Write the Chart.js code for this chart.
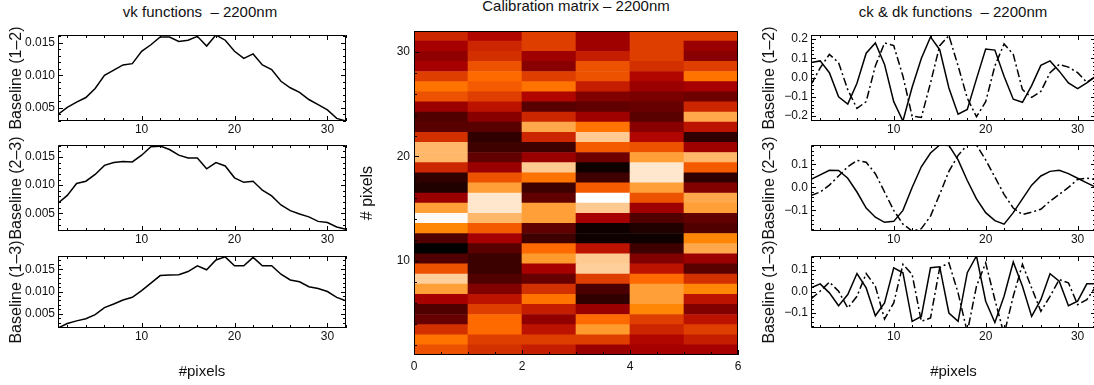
<!DOCTYPE html>
<html>
<head>
<meta charset="utf-8">
<title>vk functions, calibration matrix, ck &amp; dk functions – 2200nm</title>
<script src="https://cdn.jsdelivr.net/npm/chart.js@4.4.1/dist/chart.umd.min.js"></script>
<style>
    html, body { margin: 0; padding: 0; background: #fff; overflow: hidden; }
    body { position: relative; width: 1094px; height: 385px; font-family: 'Liberation Sans', Arial, Helvetica, sans-serif; color: #111; }
    canvas { position: absolute; }
    .title { position: absolute; font-size: 15px; line-height: 18px; white-space: pre; transform: translateX(-50%); }
</style>
</head>
<body>
<div class="title" style="left:200px; top:3px;">vk functions  – 2200nm</div>
<div class="title" style="left:576px; top:-3px;">Calibration matrix – 2200nm</div>
<div class="title" style="left:953px; top:3px;">ck &amp; dk functions  – 2200nm</div>
<script>
// Detector pixels along the x axes
const pixels = [1, 2, 3, 4, 5, 6, 7, 8, 9, 10, 11, 12, 13, 14, 15, 16,
                17, 18, 19, 20, 21, 22, 23, 24, 25, 26, 27, 28, 29, 30, 31, 32];

// vk functions, one per baseline
const vk12 = [0.0040, 0.0051, 0.0059, 0.0066, 0.0080, 0.0100, 0.0108, 0.0116, 0.0118, 0.0137, 0.0147, 0.0159,
              0.0159, 0.0152, 0.0154, 0.0160, 0.0145, 0.0162, 0.0154, 0.0137, 0.0126, 0.0133, 0.0116, 0.0109,
              0.0091, 0.0081, 0.0074, 0.0063, 0.0055, 0.0047, 0.0034, 0.0030];
const vk23 = [0.0068, 0.0082, 0.0103, 0.0107, 0.0119, 0.0135, 0.0140, 0.0142, 0.0141, 0.0153, 0.0168, 0.0169,
              0.0163, 0.0153, 0.0148, 0.0148, 0.0129, 0.0140, 0.0134, 0.0113, 0.0105, 0.0107, 0.0091, 0.0081,
              0.0065, 0.0055, 0.0049, 0.0044, 0.0036, 0.0034, 0.0026, 0.0022];
const vk13 = [0.0018, 0.0028, 0.0034, 0.0039, 0.0048, 0.0064, 0.0072, 0.0081, 0.0087, 0.0102, 0.0119, 0.0136,
              0.0137, 0.0138, 0.0145, 0.0158, 0.0149, 0.0171, 0.0178, 0.0158, 0.0158, 0.0177, 0.0158, 0.0158,
              0.0139, 0.0126, 0.0122, 0.0111, 0.0107, 0.0100, 0.0087, 0.0079];

// ck (solid) and dk (dash-dot) functions
const ck12 = [0.077, 0.086, 0.025, -0.100, -0.137, -0.030, 0.126, 0.179, 0.068, -0.125, -0.225, -0.050,
              0.098, 0.210, 0.144, -0.054, -0.190, -0.165, -0.007, 0.147, 0.142, 0.007, -0.112, -0.128,
              -0.042, 0.063, 0.086, 0.033, -0.028, -0.058, -0.028, 0.007];
const dk12 = [-0.037, 0.050, 0.120, 0.077, -0.063, -0.160, -0.125, 0.060, 0.179, 0.165, 0.007, -0.200,
              -0.207, -0.028, 0.165, 0.217, 0.060, -0.107, -0.203, -0.125, 0.060, 0.174, 0.120, -0.063,
              -0.103, -0.072, 0.025, 0.068, 0.054, 0.025, -0.025, 0.007];
const ck23 = [0.035, 0.055, 0.075, 0.074, 0.040, -0.020, -0.090, -0.130, -0.152, -0.148, -0.100, 0.000,
              0.090, 0.150, 0.185, 0.183, 0.120, 0.030, -0.050, -0.110, -0.145, -0.160, -0.110, -0.050,
              0.010, 0.050, 0.070, 0.075, 0.060, 0.040, 0.020, 0.000];
const dk23 = [-0.035, -0.020, 0.010, 0.050, 0.090, 0.118, 0.110, 0.060, -0.020, -0.100, -0.160, -0.190,
              -0.180, -0.125, -0.030, 0.070, 0.140, 0.185, 0.185, 0.120, 0.045, -0.030, -0.090, -0.118,
              -0.108, -0.095, -0.060, -0.030, 0.000, 0.035, 0.040, 0.035];
const ck13 = [0.017, 0.036, -0.006, -0.066, -0.014, 0.084, 0.017, -0.113, -0.053, 0.111, 0.088, -0.139,
              -0.116, 0.111, 0.116, -0.100, -0.139, 0.088, 0.166, -0.045, -0.144, -0.022, 0.138, 0.025,
              -0.116, -0.038, 0.083, 0.048, -0.066, -0.045, 0.036, 0.036];
const dk13 = [-0.034, 0.002, 0.044, 0.002, -0.077, -0.022, 0.084, 0.025, -0.128, -0.053, 0.127, 0.080,
              -0.139, -0.123, 0.111, 0.134, -0.006, -0.190, 0.025, 0.134, -0.038, -0.200, -0.022, 0.127,
              0.017, -0.092, -0.022, 0.056, 0.041, -0.061, -0.038, 0.025];

// Calibration matrix (0..1 on the colour table), rows from pixel 32 (top) down to pixel 1
const calibRows = [
    [0.55, 0.48, 0.60, 0.43, 0.60, 0.60],
    [0.45, 0.55, 0.60, 0.43, 0.60, 0.42],
    [0.39, 0.57, 0.43, 0.53, 0.60, 0.37],
    [0.45, 0.64, 0.37, 0.64, 0.57, 0.60],
    [0.60, 0.69, 0.60, 0.64, 0.48, 0.71],
    [0.71, 0.66, 0.71, 0.53, 0.42, 0.45],
    [0.64, 0.60, 0.48, 0.35, 0.33, 0.30],
    [0.42, 0.51, 0.24, 0.26, 0.28, 0.55],
    [0.22, 0.37, 0.55, 0.43, 0.24, 0.82],
    [0.24, 0.24, 0.82, 0.71, 0.37, 0.51],
    [0.57, 0.13, 0.55, 0.89, 0.48, 0.13],
    [0.85, 0.17, 0.17, 0.66, 0.64, 0.43],
    [0.85, 0.26, 0.42, 0.30, 0.80, 0.85],
    [0.55, 0.42, 0.89, 0.04, 0.95, 0.66],
    [0.13, 0.64, 0.71, 0.17, 0.95, 0.13],
    [0.09, 0.80, 0.17, 0.66, 0.80, 0.35],
    [0.42, 0.95, 0.26, 1.00, 0.64, 0.82],
    [0.80, 0.95, 0.80, 0.89, 0.43, 0.80],
    [0.99, 0.85, 0.80, 0.45, 0.22, 0.26],
    [0.75, 0.66, 0.26, 0.04, 0.09, 0.22],
    [0.22, 0.45, 0.17, 0.04, 0.04, 0.75],
    [0.00, 0.24, 0.69, 0.51, 0.17, 0.82],
    [0.22, 0.16, 0.79, 0.89, 0.35, 0.42],
    [0.64, 0.16, 0.45, 0.90, 0.51, 0.24],
    [0.90, 0.22, 0.28, 0.60, 0.69, 0.57],
    [0.80, 0.35, 0.57, 0.20, 0.80, 0.75],
    [0.45, 0.51, 0.71, 0.13, 0.80, 0.51],
    [0.22, 0.60, 0.53, 0.42, 0.75, 0.35],
    [0.28, 0.69, 0.39, 0.69, 0.60, 0.51],
    [0.57, 0.69, 0.51, 0.79, 0.55, 0.60],
    [0.71, 0.60, 0.60, 0.60, 0.48, 0.53],
    [0.64, 0.57, 0.53, 0.42, 0.45, 0.45]
];

// Tick values
const pixelTicks = [10, 20, 30];
const vkTicks = [0.005, 0.010, 0.015];
const ckTicks = [-0.2, -0.1, 0.0, 0.1, 0.2];
const ckTicksMid = [-0.1, 0.0, 0.1];
const matrixXTicks = [0, 2, 4, 6];
const matrixYTicks = [10, 20, 30];

Chart.defaults.font.family = "'Liberation Sans', Arial, Helvetica, sans-serif";
Chart.defaults.color = '#111';

// Box round the plot area with inward major/minor ticks
const boxTicks = {
    id: 'boxTicks',
    afterDatasetsDraw(chart, args, opts) {
        const { ctx, chartArea: a } = chart;
        const sides = opts.sides || ['left', 'right', 'top', 'bottom'];
        const marks = (scale, step) => {
            const majors = scale.ticks.map(t => t.value);
            const out = [];
            const n0 = Math.ceil(scale.min / step - 1e-6);
            const n1 = Math.floor(scale.max / step + 1e-6);
            for (let n = n0; n <= n1; n++) {
                const v = n * step;
                const major = majors.some(m => Math.abs(m - v) < step / 100);
                out.push({ p: Math.round(scale.getPixelForValue(v)) + 0.5, len: major ? 5 : 3 });
            }
            return out;
        };
        ctx.save();
        ctx.strokeStyle = '#000';
        ctx.lineWidth = 1;
        ctx.beginPath();
        marks(chart.scales.x, opts.xMinor).forEach(m => {
            if (sides.includes('bottom')) { ctx.moveTo(m.p, a.bottom); ctx.lineTo(m.p, a.bottom - m.len); }
            if (sides.includes('top')) { ctx.moveTo(m.p, a.top); ctx.lineTo(m.p, a.top + m.len); }
        });
        marks(chart.scales.y, opts.yMinor).forEach(m => {
            if (sides.includes('left')) { ctx.moveTo(a.left, m.p); ctx.lineTo(a.left + m.len, m.p); }
            if (sides.includes('right')) { ctx.moveTo(a.right, m.p); ctx.lineTo(a.right - m.len, m.p); }
        });
        ctx.rect(Math.round(a.left) + 0.5, Math.round(a.top) + 0.5, Math.round(a.width) - 1, Math.round(a.height) - 1);
        ctx.stroke();
        ctx.restore();
    }
};

function fmt(v, digits) {
    return (v < -1e-9 ? '\u2212' : '') + Math.abs(v).toFixed(digits);
}

// IDL 'red temperature' colour table
function heat(v) {
    const i = v * 255;
    const r = Math.min(255, i * 255 / 176);
    const g = Math.max(0, Math.min(255, (i - 120) * 255 / 135));
    const b = Math.max(0, Math.min(255, (i - 190) * 255 / 65));
    return `rgb(${Math.round(r)}, ${Math.round(g)}, ${Math.round(b)})`;
}

function addCanvas(left, top, width, height) {
    const canvas = document.createElement('canvas');
    canvas.width = width;
    canvas.height = height;
    canvas.style.left = left + 'px';
    canvas.style.top = top + 'px';
    document.body.appendChild(canvas);
    return canvas;
}

function axis(min, max, ticks, digits, size, pad) {
    return {
        type: 'linear', min: min, max: max, offset: false,
        grid: { display: false, drawTicks: false, offset: false },
        border: { display: false },
        afterBuildTicks: s => { s.ticks = ticks.map(v => ({ value: v })); },
        ticks: { padding: pad, font: { size: 12 }, callback: v => fmt(v, digits) },
        afterFit: s => {
            if (s.isHorizontal()) s.height = size; else s.width = size;
            s.paddingTop = s.paddingBottom = s.paddingLeft = s.paddingRight = 0;
        }
    };
}

const LEFT = { canvasLeft: 0, plotLeft: 58, plotRight: 346, titlePad: 7 };
const RIGHT = { canvasLeft: 752, plotLeft: 811, plotRight: 1096, titlePad: 8 };
const ROWS = [[35, 121, 22], [145, 231, 22], [256, 328, 57]];

function linePanel(col, row, p) {
    const [top, bottom, xAxisH] = row;
    // room above the plot so long axis titles are not cut
    const padTop = 30, padRight = 8;
    const canvas = addCanvas(col.canvasLeft, top - padTop,
        col.plotRight + padRight - col.canvasLeft, padTop + (bottom - top) + xAxisH);

    const x = axis(pixels[0], pixels[pixels.length - 1], pixelTicks, 0, xAxisH, 1);
    x.title = { display: !!p.xTitle, text: '#pixels', font: { size: 15 }, padding: { bottom: 4 } };
    const y = axis(p.yMin, p.yMax, p.yTicks, p.digits, col.plotLeft - col.canvasLeft, 3);
    y.title = { display: true, text: p.label, font: { size: 16 }, padding: { top: col.titlePad } };

    new Chart(canvas, {
        type: 'line',
        data: {
            datasets: p.series.map((values, i) => ({
                data: pixels.map((px, k) => ({ x: px, y: values[k] })),
                borderColor: '#000',
                borderWidth: 1.5,
                borderDash: i === 0 ? [] : [8, 3, 2, 3],
                pointRadius: 0,
                tension: 0
            }))
        },
        options: {
            responsive: false,
            animation: false,
            devicePixelRatio: 1,
            events: [],
            layout: { padding: { top: padTop, right: padRight, bottom: 0, left: 0 } },
            plugins: {
                legend: { display: false },
                tooltip: { enabled: false },
                boxTicks: { xMinor: 2, yMinor: p.yMinor }
            },
            scales: { x: x, y: y }
        },
        plugins: [boxTicks]
    });
}

function matrixPanel() {
    const box = { left: 414, right: 738, top: 31, bottom: 355 };
    const canvasLeft = 355, padTop = 8, padRight = 8, xAxisH = 26;
    const canvas = addCanvas(canvasLeft, box.top - padTop,
        box.right + padRight - canvasLeft, padTop + (box.bottom - box.top) + xAxisH);

    // 32 rows share the axis span from the first to the last pixel
    const yMin = pixels[0], yMax = pixels[pixels.length - 1];
    const rowSpan = (yMax - yMin) / calibRows.length;
    const rows = calibRows.slice().reverse();

    const x = axis(0, calibRows[0].length, matrixXTicks, 0, xAxisH, 4);
    const y = axis(yMin, yMax, matrixYTicks, 0, box.left - canvasLeft, 4);
    y.title = { display: true, text: '# pixels', font: { size: 16 }, padding: { top: 3 } };

    new Chart(canvas, {
        type: 'bar',
        data: {
            datasets: rows.map((row, j) => ({
                data: row.map((v, c) => ({ x: c + 0.5, y: [yMin + j * rowSpan, yMin + (j + 1) * rowSpan] })),
                backgroundColor: row.map(heat),
                borderWidth: 0,
                grouped: false,
                barPercentage: 1,
                categoryPercentage: 1
            }))
        },
        options: {
            responsive: false,
            animation: false,
            devicePixelRatio: 1,
            events: [],
            layout: { padding: { top: padTop, right: padRight, bottom: 0, left: 0 } },
            plugins: {
                legend: { display: false },
                tooltip: { enabled: false },
                boxTicks: { xMinor: 0.5, yMinor: 2, sides: ['left', 'bottom'] }
            },
            scales: { x: x, y: y }
        },
        plugins: [boxTicks]
    });
}

linePanel(LEFT, ROWS[0], { series: [vk12], yMin: 0.0030, yMax: 0.0162, yTicks: vkTicks, yMinor: 0.001, digits: 3, label: 'Baseline (1\u20132)' });
linePanel(LEFT, ROWS[1], { series: [vk23], yMin: 0.0019, yMax: 0.0171, yTicks: vkTicks, yMinor: 0.001, digits: 3, label: 'Baseline (2\u20133)' });
linePanel(LEFT, ROWS[2], { series: [vk13], yMin: 0.0018, yMax: 0.0180, yTicks: vkTicks, yMinor: 0.001, digits: 3, label: 'Baseline (1\u20133)', xTitle: true });

matrixPanel();

linePanel(RIGHT, ROWS[0], { series: [ck12, dk12], yMin: -0.225, yMax: 0.220, yTicks: ckTicks, yMinor: 0.02, digits: 1, label: 'Baseline (1\u20132)' });
linePanel(RIGHT, ROWS[1], { series: [ck23, dk23], yMin: -0.190, yMax: 0.185, yTicks: ckTicksMid, yMinor: 0.02, digits: 1, label: 'Baseline (2\u20133)' });
linePanel(RIGHT, ROWS[2], { series: [ck13, dk13], yMin: -0.170, yMax: 0.166, yTicks: ckTicksMid, yMinor: 0.02, digits: 1, label: 'Baseline (1\u20133)', xTitle: true });
</script>
</body>
</html>
